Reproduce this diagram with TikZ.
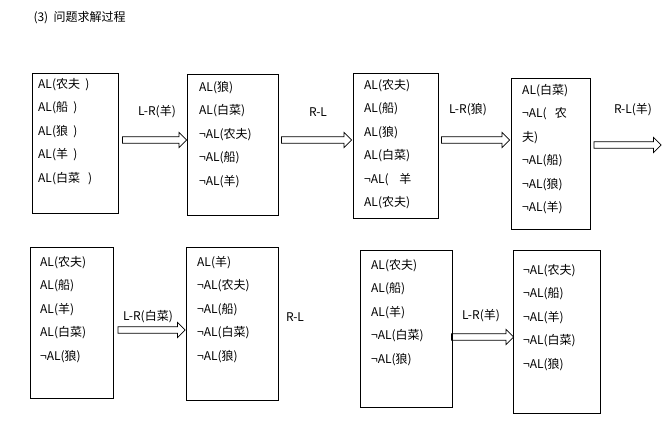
\documentclass[tikz,border=0pt]{standalone}
\usepackage{fontspec}
\setmainfont{Liberation Sans}
\newfontfamily\cjk{Noto Sans CJK SC}
\usetikzlibrary{shapes.arrows}
\tikzset{
  box/.style={draw,thick,minimum width=#1,inner sep=0pt},
  lines/.style={anchor=north west,align=left,inner sep=0pt,font=\cjk\fontsize{12}{23.5}\selectfont},
  fat/.style={single arrow,draw,thick,inner xsep=0pt,inner ysep=2.5pt,minimum width=15pt,single arrow head extend=4pt,single arrow head indent=0pt,minimum height=#1},
  lbl/.style={font=\cjk\fontsize{12}{14}\selectfont}
}
\begin{document}
\begin{tikzpicture}[x=1pt,y=-1pt]
\useasboundingbox (0,0) rectangle (667,441);
\node[lbl,anchor=west] (title) at (30,18) {(3)\ \ 问题求解过程};

% row 1
\node[box=86pt,minimum height=140pt] (b1) at (75,143) {};
\node[lines] (t1) at (38,78) {AL(农夫\ \ )\\AL(船\ \ )\\AL(狼\ \ )\\AL(羊\ \ )\\AL(白菜\ \ \ )};
\node[box=91pt,minimum height=141pt] (b2) at (232.5,144.5) {};
\node[lines] (t2) at (199,81) {AL(狼)\\AL(白菜)\\¬AL(农夫)\\¬AL(船)\\¬AL(羊)};
\node[box=85pt,minimum height=145pt] (b3) at (395.5,145.5) {};
\node[lines] (t3) at (364,79) {AL(农夫)\\AL(船)\\AL(狼)\\AL(白菜)\\¬AL(\ \ \ \ 羊\\AL(农夫)};
\node[box=79pt,minimum height=151pt] (b4) at (550.5,153.5) {};
\node[lines] (t4) at (522,84) {AL(白菜)\\¬AL(\ \ \ 农\\夫)\\¬AL(船)\\¬AL(狼)\\¬AL(羊)};

\node[fat=64pt] (a1) at (153,140) {};
\node[lbl] (l1) at (157,112) {L-R(羊)};
\node[fat=70pt] (a2) at (315,140) {};
\node[lbl] (l2) at (318,112) {R-L};
\node[fat=68pt] (a3) at (474,140) {};
\node[lbl] (l3) at (468,110) {L-R(狼)};
\node[fat=67pt] (a4) at (626,145) {};
\node[lbl] (l4) at (633,110) {R-L(羊)};

% row 2
\node[box=83pt,minimum height=151pt] (b5) at (71.5,322.5) {};
\node[lines] (t5) at (40,256) {AL(农夫)\\AL(船)\\AL(羊)\\AL(白菜)\\¬AL(狼)};
\node[box=92pt,minimum height=153pt] (b6) at (232,323.5) {};
\node[lines] (t6) at (197,256) {AL(羊)\\¬AL(农夫)\\¬AL(船)\\¬AL(白菜)\\¬AL(狼)};
\node[box=92pt,minimum height=157pt] (b7) at (406,328.5) {};
\node[lines] (t7) at (371,259) {AL(农夫)\\AL(船)\\AL(羊)\\¬AL(白菜)\\¬AL(狼)};
\node[box=87pt,minimum height=163pt] (b8) at (556.5,331.5) {};
\node[lines] (t8) at (523,264) {¬AL(农夫)\\¬AL(船)\\¬AL(羊)\\¬AL(白菜)\\¬AL(狼)};

\node[fat=67pt] (a5) at (150,330) {};
\node[lbl] (l5) at (148,317) {L-R(白菜)};
\node[lbl] (l6) at (295,317) {R-L};
\node[fat=62pt] (a7) at (481,337) {};
\node[lbl] (l7) at (481,316) {L-R(羊)};
\end{tikzpicture}
\end{document}
